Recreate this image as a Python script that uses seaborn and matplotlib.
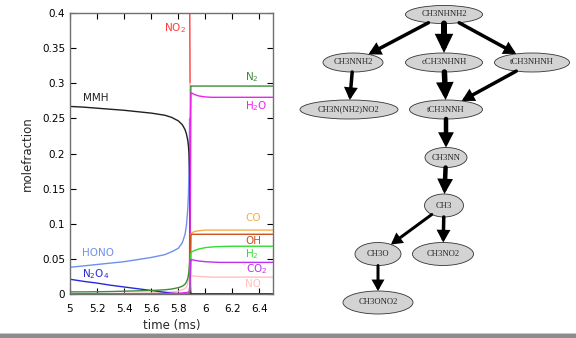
import numpy as np
import pandas as pd
import seaborn as sns
import matplotlib
matplotlib.use("Agg")
from matplotlib import pyplot as plt
from matplotlib.patches import Ellipse, FancyArrowPatch, Rectangle
from matplotlib.ticker import FormatStrFormatter

# time axis (ms) and mole fractions
time = [5.0, 5.1, 5.2, 5.3, 5.4, 5.5, 5.6, 5.7, 5.75, 5.8, 5.83, 5.85, 5.86, 5.87, 5.875, 5.88,
        5.884, 5.887, 5.889, 5.891, 5.893, 5.9, 5.92, 5.95, 6.0, 6.05, 6.1, 6.2, 6.3, 6.4, 6.5]

no2 = [.56, .558, .555, .552, .55, .546, .54, .535, .53, .52, .51, .5, .495, .49, .48, .47,
       .45, .3, .05, .005, 0, 0, 0, 0, 0, 0, 0, 0, 0, 0, 0]
no = [0, 0, 0, .0005, .001, .0012, .0015, .002, .003, .004, .006, .008, .01, .015, .02, .03,
      .1, .3, .2, .05, .027, .026, .0255, .025, .0245, .024, .024, .024, .024, .024, .024]
mmh = [.267, .266, .2645, .263, .2615, .2595, .2575, .2545, .2515, .2465, .241, .234, .228, .219, .211, .198,
       .17, .08, .01, 0, 0, 0, 0, 0, 0, 0, 0, 0, 0, 0, 0]
hono = [.038, .04, .042, .044, .046, .049, .052, .056, .06, .065, .073, .085, .097, .12, .14, .18,
        .25, .12, .02, 0, 0, 0, 0, 0, 0, 0, 0, 0, 0, 0, 0]
n2o4 = [.021, .018, .0155, .0125, .01, .0075, .005, .0025, .0012, .0003, 0, 0, 0, 0, 0, 0,
        0, 0, 0, 0, 0, 0, 0, 0, 0, 0, 0, 0, 0, 0, 0]
n2 = [.003, .003, .0032, .0035, .004, .0045, .005, .006, .007, .009, .011, .014, .017, .022, .027, .035,
      .045, .06, .1, .25, .296, .296, .296, .296, .296, .296, .296, .296, .296, .296, .296]
h2o = [0, 0, 0, 0, 0, 0, 0, .0005, .001, .001, .0015, .002, .002, .0025, .003, .003,
       .01, .05, .15, .26, .286, .286, .284, .282, .2805, .28, .28, .28, .28, .28, .28]
co = [0, 0, 0, 0, 0, 0, 0, 0, 0, 0, 0, 0, 0, .001, .001, .002,
      .005, .015, .03, .05, .085, .087, .089, .09, .091, .091, .091, .091, .091, .091, .091]
oh = [0, 0, 0, 0, 0, 0, 0, 0, 0, 0, 0, 0, 0, 0, .001, .001,
      .003, .01, .03, .06, .084, .085, .085, .085, .085, .085, .085, .085, .085, .085, .085]
h2 = [0, 0, 0, 0, 0, 0, 0, 0, 0, 0, 0, 0, 0, .001, .001, .002,
      .004, .01, .025, .045, .058, .06, .062, .064, .066, .067, .0675, .068, .068, .068, .068]
co2 = [0, 0, 0, 0, 0, 0, 0, 0, 0, 0, 0, 0, 0, 0, .001, .001,
       .003, .01, .025, .042, .049, .049, .048, .047, .046, .0455, .045, .045, .045, .045, .045]

species = ['NO2', 'NO', 'N2O4', 'HONO', 'MMH', 'N2', 'H2O', 'CO', 'OH', 'H2', 'CO2']
series = [no2, no, n2o4, hono, mmh, n2, h2o, co, oh, h2, co2]
colors = ['#ff3b3b', '#ffc0c0', '#2828e0', '#6f8ff0', '#202020', '#3c8c3c',
          '#ee22ee', '#f7ae4a', '#c8501e', '#30dd30', '#c030f0']
labels = ['NO$_2$', 'NO', 'N$_2$O$_4$', 'HONO', 'MMH', 'N$_2$', 'H$_2$O', 'CO', 'OH', 'H$_2$', 'CO$_2$']
label_x = [5.776, 6.355, 5.19, 5.206, 5.19, 6.347, 6.376, 6.355, 6.355, 6.347, 6.376]
label_y = [.378, .0138, .028, .0588, .279, .309, .268, .1086, .0754, .0565, .0356]

# reaction graph
nodes = ['CH3NHNH2', 'CH3NNH2', 'cCH3NHNH', 'tCH3NHNH', 'CH3N(NH2)NO2', 'tCH3NNH',
         'CH3NN', 'CH3', 'CH3O', 'CH3NO2', 'CH3ONO2']
edges = [('CH3NHNH2', 'CH3NNH2'), ('CH3NHNH2', 'cCH3NHNH'), ('CH3NHNH2', 'tCH3NHNH'),
         ('CH3NNH2', 'CH3N(NH2)NO2'), ('cCH3NHNH', 'tCH3NNH'), ('tCH3NHNH', 'tCH3NNH'),
         ('tCH3NNH', 'CH3NN'), ('CH3NN', 'CH3'), ('CH3', 'CH3O'), ('CH3', 'CH3NO2'),
         ('CH3O', 'CH3ONO2')]
edge_weight = [3.5, 6, 3.5, 3.5, 5.5, 3.5, 4.5, 4.5, 3, 3.5, 3]

# layout of the graph (pixel units): centre x, centre y, width, height
node_box = {
    'CH3NHNH2': (444, 14.5, 77, 18),
    'CH3NNH2': (353, 62.5, 60, 19),
    'cCH3NHNH': (444, 62.5, 77, 19),
    'tCH3NHNH': (532, 62.5, 75, 19),
    'CH3N(NH2)NO2': (349, 109.5, 98, 19),
    'tCH3NNH': (446, 109.5, 73, 19),
    'CH3NN': (446, 157.5, 42, 20),
    'CH3': (444, 205.5, 39, 23),
    'CH3O': (378, 254, 46, 23),
    'CH3NO2': (443, 254, 61, 23),
    'CH3ONO2': (378, 302.5, 70, 23),
}

sns.set_style('ticks')
plt.rcParams['font.family'] = ['DejaVu Sans']

df = pd.concat([pd.DataFrame({'time': time, 'value': s, 'species': n}) for n, s in zip(species, series)],
               ignore_index=True)

fig = plt.figure(figsize=(5.76, 3.38), dpi=100)
W, H = 576, 338
ax = fig.add_axes([70 / W, 44 / H, 203 / W, 281 / H])
sns.lineplot(data=df, x='time', y='value', hue='species', hue_order=species,
             palette=dict(zip(species, colors)), sort=False, estimator=None,
             legend=False, linewidth=1.0, ax=ax)
ax.set_xlim(5, 6.5)
ax.set_ylim(0, 0.4)
ax.set_xticks([5, 5.2, 5.4, 5.6, 5.8, 6, 6.2, 6.4])
ax.set_yticks([0, 0.05, 0.1, 0.15, 0.2, 0.25, 0.3, 0.35, 0.4])
ax.xaxis.set_major_formatter(FormatStrFormatter('%g'))
ax.yaxis.set_major_formatter(FormatStrFormatter('%g'))
ax.tick_params(direction='in', length=4, width=0.8, top=True, right=True, labelsize=7.5, colors='black')
ax.tick_params(axis='x', pad=7)
for sp in ax.spines.values():
    sp.set_color('#707070')
    sp.set_linewidth(1.0)
ax.set_xlabel('time (ms)', fontsize=8.5, labelpad=4)
ax.set_ylabel('molefraction', fontsize=8.5, labelpad=6)

for lab, c, x, y in zip(labels, colors, label_x, label_y):
    ax.text(x, y, lab, color=c, fontsize=7.5, ha='center', va='center')

# graph panel
gax = fig.add_axes([290 / W, 0, 286 / W, 1])
gax.set_xlim(290, 576)
gax.set_ylim(H, 0)
gax.axis('off')

for n in nodes:
    cx, cy, w, h = node_box[n]
    gax.add_patch(Ellipse((cx, cy), w, h, facecolor='#d3d3d3', edgecolor='#333333', lw=0.6))
    gax.text(cx, cy, n, fontsize=6.2, family='Liberation Serif', ha='center', va='center')

for (a, b), wpx in zip(edges, edge_weight):
    ax0, ay0, aw, ah = node_box[a]
    bx0, by0, bw, bh = node_box[b]
    dx, dy = bx0 - ax0, by0 - ay0
    ta = 1 / np.sqrt((dx / (aw / 2)) ** 2 + (dy / (ah / 2)) ** 2)
    tb = 1 / np.sqrt((dx / (bw / 2)) ** 2 + (dy / (bh / 2)) ** 2)
    p0 = (ax0 + ta * dx, ay0 + ta * dy)
    p1 = (bx0 - tb * dx, by0 - tb * dy)
    half = 0.7 * wpx + 3.3
    hw = (half - wpx / 2) * 0.72
    hl = (0.8 * wpx + 4.5) * 0.72
    arr = FancyArrowPatch(p0, p1, arrowstyle=f'-|>,head_length={hl:.2f},head_width={hw:.2f}',
                          mutation_scale=1, lw=wpx * 0.72, color='black',
                          shrinkA=0, shrinkB=0, joinstyle='miter')
    gax.add_patch(arr)

# grey strip at the bottom edge
fig.patches.append(Rectangle((0, 0), 1, 5 / H, transform=fig.transFigure,
                             facecolor='#8c8c8c', edgecolor='none', zorder=10))
fig.patches.append(Rectangle((0, 4 / H), 1, 1.5 / H, transform=fig.transFigure,
                             facecolor='#c8c8c8', edgecolor='none', zorder=11))

fig.savefig('out.png', dpi=100)
